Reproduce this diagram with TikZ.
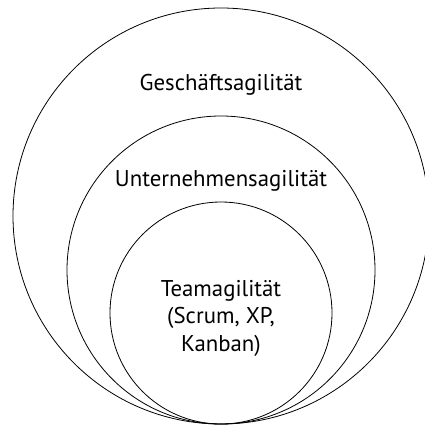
\documentclass[tikz,border=0pt]{standalone}
\usepackage{fontspec}
\setmainfont{PT Sans}
\usepackage{tikz}

\begin{document}
\begin{tikzpicture}[x=1pt, y=-1pt]
	\useasboundingbox (0,0) rectangle (425,425);
	\draw[black, line width=0.8pt] (221,216) circle(208);
	\draw[black, line width=0.8pt] (221,270) circle(154);
	\draw[black, line width=0.8pt] (221,313) circle(111);

	\node[black, font=\fontsize{22.8}{27.5}\selectfont] (geschaeft) at (221,85) {Geschäftsagilität};
	\node[black, font=\fontsize{22.8}{27.5}\selectfont] (unternehmen) at (221,181) {Unternehmensagilität};
	\node[black, font=\fontsize{22.8}{27.5}\selectfont, align=center] (team) at (221,318) {Teamagilität\\(Scrum, XP,\\Kanban)};
\end{tikzpicture}
\end{document}
